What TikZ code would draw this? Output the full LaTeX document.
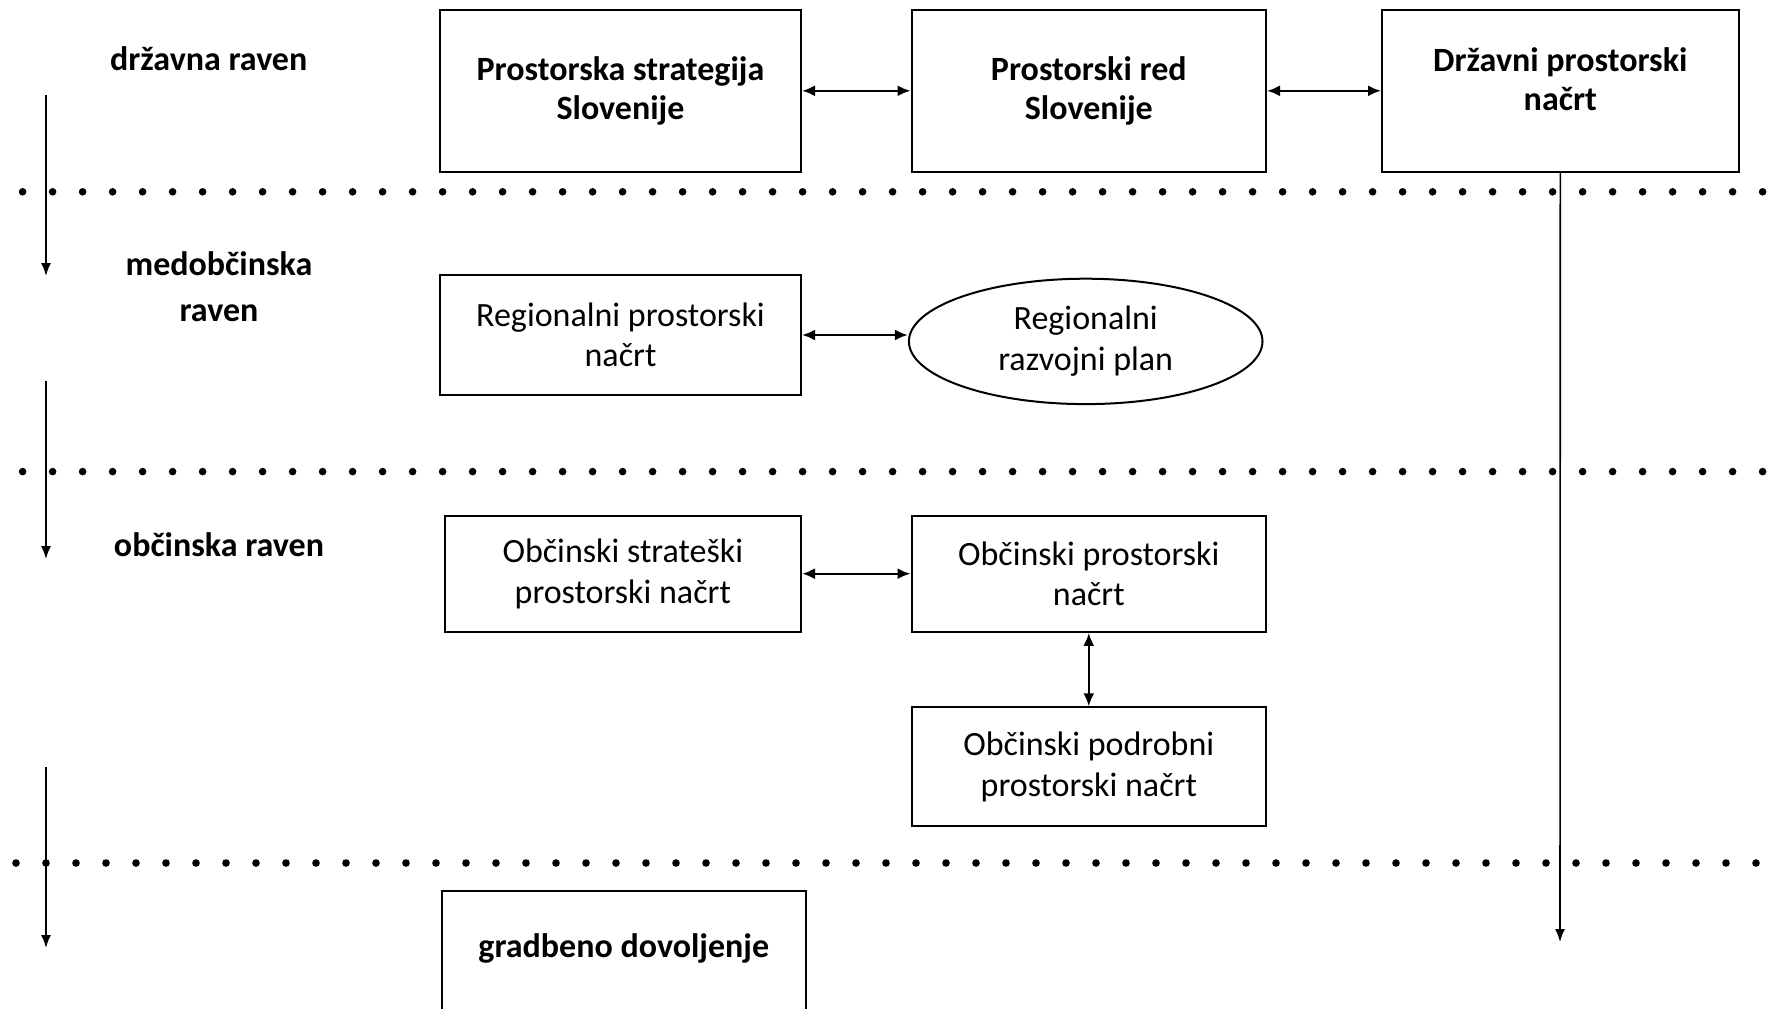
\documentclass[tikz,border=0pt]{standalone}
\usepackage{fontspec}
\setmainfont{Carlito}
\usepackage{tikz}
\usetikzlibrary{calc,shapes.geometric,arrows.meta}

\tikzset{
 box/.style={draw, rectangle, line width=1pt, inner sep=2pt, align=center, font=\fontsize{17}{20.3}\selectfont},
 bbox/.style={box, font=\fontsize{17}{19.7}\selectfont\bfseries},
 level/.style={align=center, font=\fontsize{17}{23}\selectfont\bfseries},
 link/.style={line width=1.2pt, {Latex[length=6.5pt,width=5.5pt]}-{Latex[length=6.5pt,width=5.5pt]}},
 down/.style={line width=0.8pt, -{Latex[length=6.5pt,width=5pt]}},
 sep/.style={line width=3.8pt, line cap=round, dash pattern=on 0pt off 15pt}
}

\begin{document}
\begin{tikzpicture}[x=0.5pt,y=-0.5pt]
\useasboundingbox (0,0) rectangle (1769,1008);
\clip (0,0) rectangle (1769,1008);
\node (1) at (620.5,90.8) [bbox, minimum width=180.5pt, minimum height=80.8pt] {Prostorska strategija\\Slovenije};
\node (2) at (1088.8,90.8) [bbox, minimum width=177.2pt, minimum height=80.8pt] {Prostorski red\\Slovenije};
\node (3) at (1560.3,90.8) [bbox, minimum width=178.2pt, minimum height=80.8pt, text depth=12pt] {Državni prostorski\\načrt};
\node (4) at (620.5,335) [box, minimum width=180.5pt, minimum height=60pt] {Regionalni prostorski\\načrt};
\node (5) at (1085.7,341.4) [box, ellipse, inner sep=0pt, minimum width=176.8pt, minimum height=62.7pt] {Regionalni\\razvojni plan};
\node (6) at (622.8,573.7) [box, minimum width=178.2pt, minimum height=58.1pt] {Občinski strateški\\prostorski načrt};
\node (7) at (1088.8,573.7) [box, minimum width=177.2pt, minimum height=58.1pt] {Občinski prostorski\\načrt};
\node (8) at (1088.8,766.7) [box, minimum width=177.2pt, minimum height=59.3pt] {Občinski podrobni\\prostorski načrt};
\node (9) at (623.8,956) [bbox, minimum width=181.8pt, minimum height=65pt, text depth=10pt] {gradbeno dovoljenje};
\node (10) at (208.7,58.7) [level] {državna raven};
\node (11) at (219,287) [level] {medobčinska\\raven};
\node (12) at (219,545) [level] {občinska raven};
\coordinate (l1) at (46,95);
\coordinate (l2) at (46,276);
\coordinate (l3) at (46,381);
\coordinate (l4) at (46,559);
\coordinate (l5) at (46,767);
\coordinate (l6) at (46,948);
\coordinate (e) at (1560,942);
\draw[sep] (22.6,191.8) -- (1769,191.8);
\draw[sep] (22.6,471.6) -- (1769,471.6);
\draw[sep] (16,863) -- (1769,863);
\draw[link] (1) to (2);
\draw[link] (2) to (3);
\draw[link] (4.east) to (4.east -| 5.west);
\draw[link] (6) to (7);
\draw[link] (7) to (8);
\draw[down] (l1) to (l2);
\draw[down] (l3) to (l4);
\draw[down] (l5) to (l6);
\draw[down] (3.south) to (e);
\end{tikzpicture}
\end{document}
